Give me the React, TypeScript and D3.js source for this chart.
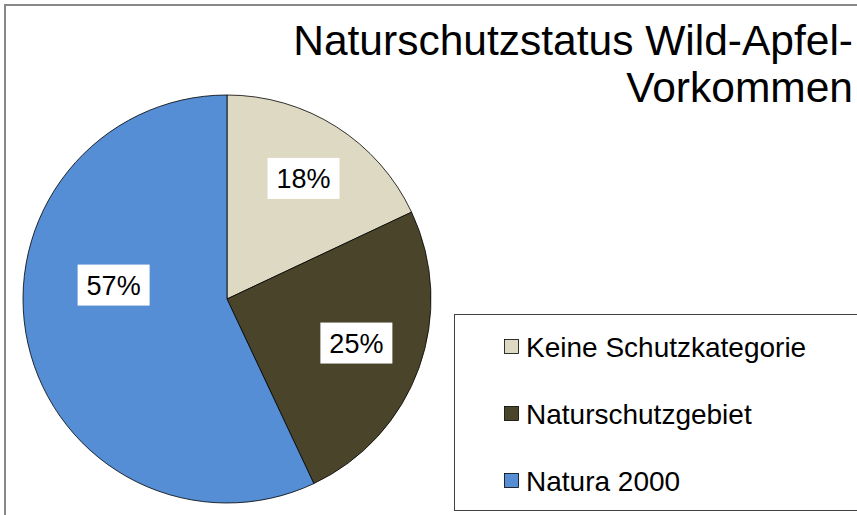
import React from "react";
import * as d3 from "d3";

const categories = ["Keine Schutzkategorie", "Naturschutzgebiet", "Natura 2000"];
const values = [18, 25, 57];
const colors = ["#DDD9C3", "#4A452A", "#558ED5"];
const titleLines = ["Naturschutzstatus Wild-Apfel-", "Vorkommen"];

// label placement layout (radius fraction, angle nudge in degrees)
const labelLayout = [
  { rf: 0.7, dA: 0 },
  { rf: 0.67, dA: -1 },
  { rf: 0.56, dA: 19.6 },
];

const W = 857;
const H = 515;
const FONT = "'Liberation Sans', Arial, sans-serif";

export default function App() {
  const cx = 227;
  const cy = 299;
  const r = 204;
  const pie = d3.pie<number>().sort(null).value((d) => d)(values);
  const arc = d3.arc<d3.PieArcDatum<number>>().innerRadius(0).outerRadius(r);
  const total = d3.sum(values);

  const legendX = 454.5;
  const legendY = 314.5;
  const rowGap = 67;

  return (
    <svg
      width={W}
      height={H}
      style={{ position: "absolute", left: 0, top: 0, background: "#fff" }}
      fontFamily={FONT}
    >
      <rect x={0} y={0} width={W} height={H} fill="#fff" />
      <rect x={5} y={5} width={W + 50} height={H + 50} fill="none" stroke="#888" strokeWidth={2} />
      <g>
        {titleLines.map((t, i) => (
          <text key={i} x={853} y={55 + i * 47} textAnchor="end" fontSize={42.5} fill="#000">
            {t}
          </text>
        ))}
      </g>
      <g transform={`translate(${cx},${cy})`}>
        {pie.map((p, i) => (
          <path key={i} d={arc(p) || ""} fill={colors[i]} stroke="#000" strokeWidth={0.8} />
        ))}
        {pie.map((p, i) => {
          const mid = (p.startAngle + p.endAngle) / 2 + (labelLayout[i].dA * Math.PI) / 180;
          const rr = r * labelLayout[i].rf;
          const x = rr * Math.sin(mid);
          const y = -rr * Math.cos(mid);
          const label = `${Math.round((p.value / total) * 100)}%`;
          const bw = 72;
          const bh = 41;
          return (
            <g key={"l" + i} transform={`translate(${x},${y})`}>
              <rect x={-bw / 2} y={-bh / 2} width={bw} height={bh} fill="#fff" />
              <text textAnchor="middle" dy="0.36em" fontSize={27} fill="#000">
                {label}
              </text>
            </g>
          );
        })}
      </g>
      <g>
        <rect x={legendX} y={legendY} width={W} height={196} fill="#fff" stroke="#404040" strokeWidth={1} />
        {categories.map((c, i) => (
          <g key={c} transform={`translate(0,${legendY + 32 + i * rowGap})`}>
            <rect x={504.5} y={-7} width={14} height={14} fill={colors[i]} stroke="#000" strokeWidth={0.8} />
            <text x={526} y={0} dy="0.36em" fontSize={28} fill="#000">
              {c}
            </text>
          </g>
        ))}
      </g>
    </svg>
  );
}
